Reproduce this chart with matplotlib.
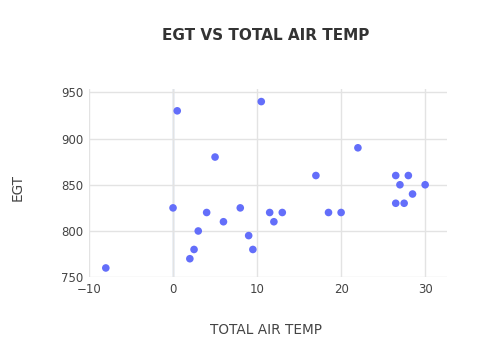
import matplotlib
matplotlib.use('Agg')
import matplotlib.pyplot as plt

# EGT vs total air temperature readings
total_air_temp = [-8, 0.5, 0, 5, 4, 3, 2.5, 2, 6, 8, 9, 9.5, 10.5,
                  11.5, 12, 13, 17, 18.5, 20, 22,
                  26.5, 26.5, 27, 28, 27.5, 28.5, 30]
egt = [760, 930, 825, 880, 820, 800, 780, 770, 810, 825, 795, 780, 940,
       820, 810, 820, 860, 820, 820, 890,
       860, 830, 850, 860, 830, 840, 850]

x_ticks = [-10, 0, 10, 20, 30]
y_ticks = [750, 800, 850, 900, 950]

plt.rcParams['font.family'] = ['DejaVu Sans']
fig = plt.figure(figsize=(5, 3.6), dpi=100)
ax = fig.add_axes([0.178, 0.23, 0.716, 0.523])

ax.scatter(total_air_temp, egt, s=30, color='#636efa', edgecolors='none', zorder=3)

ax.set_xlim(-10, 32.6)
ax.set_ylim(750, 953.7)
ax.set_xticks(x_ticks)
ax.set_yticks(y_ticks)
ax.set_xticklabels(['\u221210', '0', '10', '20', '30'])
ax.grid(True, color='#e3e3e3', linewidth=1, zorder=0)
ax.axvline(0, color='#edf1f9', linewidth=2, zorder=1)
for s in ax.spines.values():
    s.set_visible(False)
ax.tick_params(length=0, labelsize=8.5, labelcolor='#444444', pad=4)

fig.text(0.531, 0.902, 'EGT VS TOTAL AIR TEMP', ha='center', va='center',
         fontsize=11, fontweight='bold', color='#333333')
fig.text(0.531, 0.083, 'TOTAL AIR TEMP', ha='center', va='center',
         fontsize=9.8, color='#444444')
fig.text(0.036, 0.478, 'EGT', ha='center', va='center', rotation=90,
         fontsize=9.8, color='#444444')

fig.savefig('out.png', dpi=100)
